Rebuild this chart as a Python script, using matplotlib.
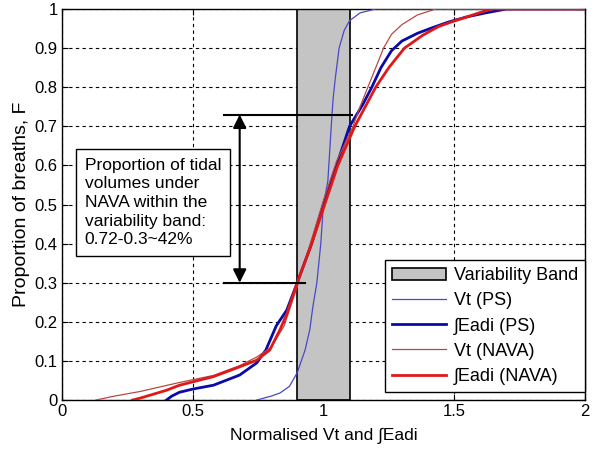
import matplotlib.pyplot as plt
import numpy as np

plt.rcParams['font.family'] = ['Liberation Sans', 'DejaVu Sans']

# cumulative curves (x = normalised value, y = proportion F)
vt_ps_x = [0.745, 0.80, 0.834, 0.87, 0.90, 0.93, 0.948, 0.96, 0.975, 0.99, 1.0,
           1.017, 1.03, 1.037, 1.045, 1.06, 1.08, 1.10, 1.14, 1.20, 2.0]
vt_ps_y = [0.0, 0.01, 0.018, 0.035, 0.07, 0.128, 0.18, 0.24, 0.30, 0.40, 0.50,
           0.56, 0.70, 0.77, 0.82, 0.90, 0.946, 0.97, 0.99, 1.0, 1.0]

eadi_ps_x = [0.40, 0.42, 0.45, 0.5, 0.58, 0.68, 0.745, 0.78, 0.82, 0.86, 0.90,
             0.955, 1.0, 1.05, 1.10, 1.15, 1.185, 1.22, 1.26, 1.30, 1.36, 1.42,
             1.48, 1.55, 1.62, 1.70, 2.0]
eadi_ps_y = [0.0, 0.01, 0.02, 0.028, 0.038, 0.064, 0.095, 0.128, 0.19, 0.23, 0.30,
             0.40, 0.50, 0.60, 0.70, 0.755, 0.80, 0.85, 0.893, 0.918, 0.938, 0.953,
             0.967, 0.98, 0.99, 1.0, 1.0]

vt_nava_x = [0.13, 0.2, 0.3, 0.45, 0.58, 0.68, 0.745, 0.80, 0.85, 0.90, 0.95,
             1.0, 1.05, 1.113, 1.14, 1.17, 1.20, 1.23, 1.26, 1.30, 1.36, 1.43, 2.0]
vt_nava_y = [0.0, 0.01, 0.022, 0.045, 0.063, 0.088, 0.11, 0.135, 0.19, 0.29, 0.40,
             0.51, 0.61, 0.70, 0.75, 0.80, 0.85, 0.90, 0.935, 0.96, 0.985, 1.0, 1.0]

eadi_nava_x = [0.27, 0.3, 0.4, 0.45, 0.58, 0.68, 0.745, 0.795, 0.834, 0.86, 0.90,
               0.955, 1.005, 1.055, 1.12, 1.16, 1.20, 1.25, 1.31, 1.38, 1.44,
               1.49, 1.55, 1.64, 2.0]
eadi_nava_y = [0.0, 0.005, 0.025, 0.038, 0.06, 0.085, 0.102, 0.128, 0.18, 0.22, 0.30,
               0.40, 0.50, 0.60, 0.70, 0.75, 0.80, 0.85, 0.90, 0.933, 0.955,
               0.967, 0.98, 1.0, 1.0]

band = (0.9, 1.1)
f_low, f_high = 0.30, 0.73

fig = plt.figure(figsize=(6, 4.49), dpi=100)
ax = fig.add_axes([0.103, 0.109, 0.872, 0.871])

ax.set_axisbelow(True)
ax.grid(True, color="black", linestyle=(0, (3, 3)), linewidth=0.8)

ax.axvspan(band[0], band[1], facecolor="#c4c4c4", edgecolor="black",
           linewidth=1.2, label="Variability Band", zorder=1.5)

ax.plot(vt_ps_x, vt_ps_y, color="#4848c8", linewidth=0.9, label="Vt (PS)", zorder=3)
ax.plot(eadi_ps_x, eadi_ps_y, color="#0a0aa8", linewidth=2.0, label="∫Eadi (PS)", zorder=3)
ax.plot(vt_nava_x, vt_nava_y, color="#b84848", linewidth=0.9, label="Vt (NAVA)", zorder=3)
ax.plot(eadi_nava_x, eadi_nava_y, color="#e01818", linewidth=2.0, label="∫Eadi (NAVA)", zorder=3)

# annotation lines and arrow
ax.plot([0.62, 1.11], [f_high, f_high], color="black", linewidth=1.5, zorder=4)
ax.plot([0.62, 0.93], [f_low, f_low], color="black", linewidth=1.5, zorder=4)
ax.annotate("", xy=(0.68, f_high), xytext=(0.68, f_low),
            arrowprops=dict(arrowstyle="<|-|>", color="black", linewidth=1.5,
                            mutation_scale=20, shrinkA=0, shrinkB=0), zorder=4)

ax.text(0.088, 0.505,
        "Proportion of tidal\nvolumes under\nNAVA within the\nvariability band:\n0.72-0.3~42%",
        fontsize=12.5, ha="left", va="center", linespacing=1.3, zorder=5,
        bbox=dict(boxstyle="square,pad=0.5", facecolor="white",
                  edgecolor="black", linewidth=1.0))

ax.set_xlim(0, 2)
ax.set_ylim(0, 1)
ax.set_xticks([0, 0.5, 1, 1.5, 2])
ax.set_xticklabels(["0", "0.5", "1", "1.5", "2"])
ax.set_yticks(np.arange(0, 1.01, 0.1))
ax.set_yticklabels(["0", "0.1", "0.2", "0.3", "0.4", "0.5", "0.6", "0.7", "0.8", "0.9", "1"])
ax.tick_params(direction="in", length=4, labelsize=12, top=True, right=True, pad=3)
for s in ax.spines.values():
    s.set_linewidth(1.0)

ax.set_xlabel("Normalised Vt and ∫Eadi", fontsize=12.5, labelpad=6)
ax.set_ylabel("Proportion of breaths, F", fontsize=14, labelpad=3)

leg = ax.legend(loc="lower right", bbox_to_anchor=(1.0, 0.02), fontsize=13,
                frameon=True, fancybox=False, edgecolor="black", framealpha=1,
                borderaxespad=0, handlelength=3.0, labelspacing=0.45,
                borderpad=0.4, handletextpad=0.4)
leg.get_frame().set_linewidth(1.0)
leg.set_zorder(6)

fig.savefig("out.png", dpi=100)
